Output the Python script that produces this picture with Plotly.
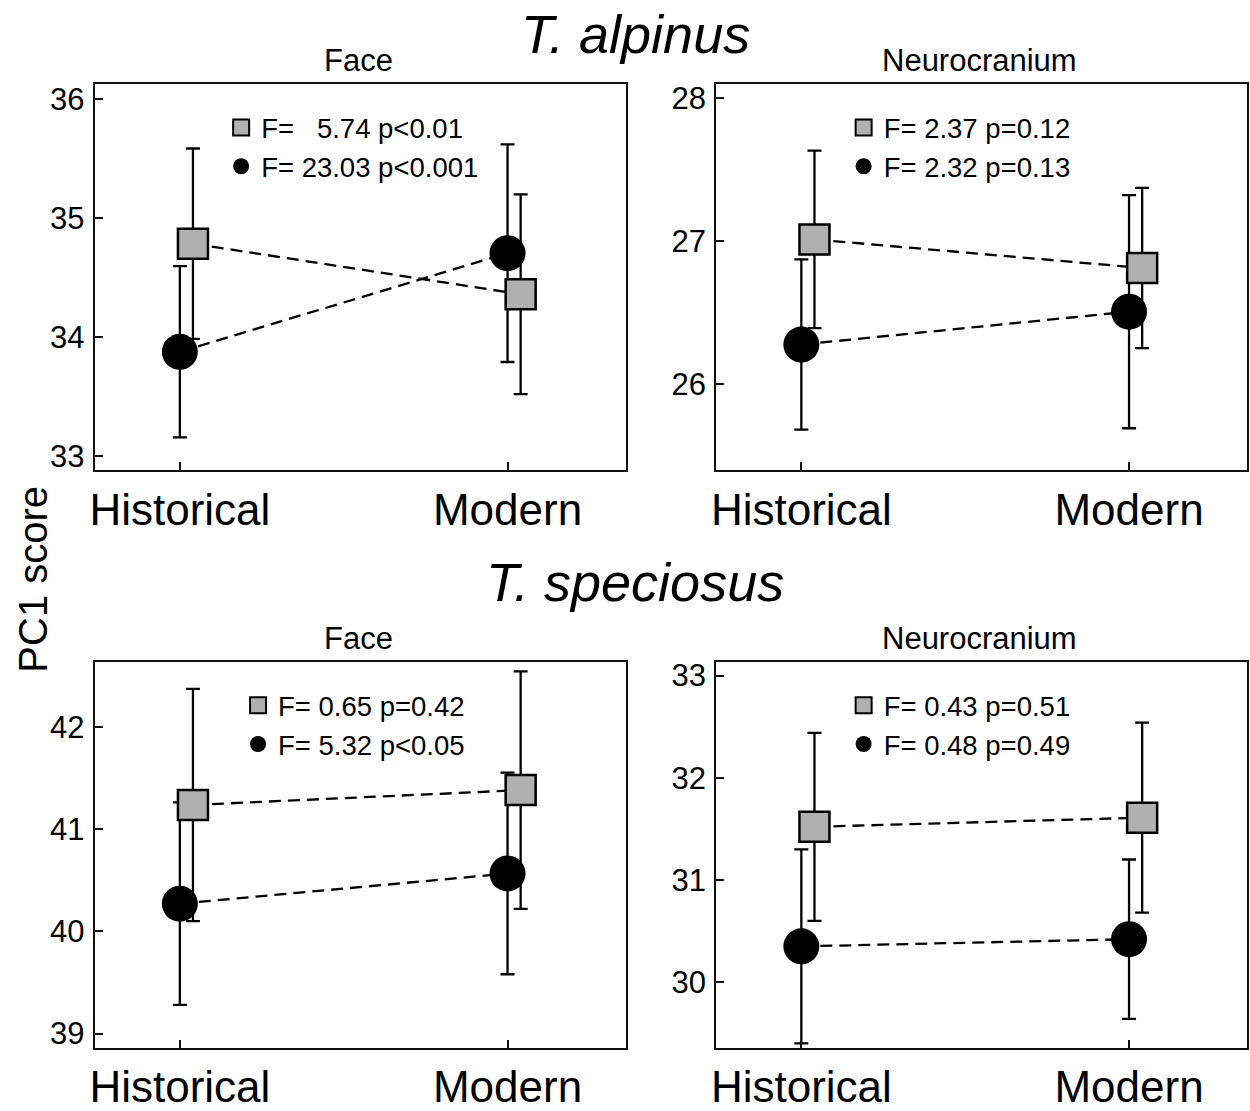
import plotly.graph_objects as go

# ---- data: PC1 score means and error half-widths ----
periods = ["Historical", "Modern"]

alp_face_sq = [34.785, 34.36]
alp_face_sq_err = [0.80, 0.84]
alp_face_ci = [33.876, 34.705]
alp_face_ci_err = [0.72, 0.915]

alp_neuro_sq = [27.01, 26.81]
alp_neuro_sq_err = [0.62, 0.56]
alp_neuro_ci = [26.275, 26.505]
alp_neuro_ci_err = [0.595, 0.815]

spe_face_sq = [41.235, 41.38]
spe_face_sq_err = [1.135, 1.16]
spe_face_ci = [40.27, 40.565]
spe_face_ci_err = [0.99, 0.985]

spe_neuro_sq = [31.52, 31.61]
spe_neuro_sq_err = [0.92, 0.93]
spe_neuro_ci = [30.35, 30.42]
spe_neuro_ci_err = [0.95, 0.78]

stats_sq = ["F=   5.74 p<0.01", "F= 2.37 p=0.12", "F= 0.65 p=0.42", "F= 0.43 p=0.51"]
stats_ci = ["F= 23.03 p<0.001", "F= 2.32 p=0.13", "F= 5.32 p<0.05", "F= 0.48 p=0.49"]

panel_titles = ["Face", "Neurocranium", "Face", "Neurocranium"]
species = ["T. alpinus", "T. speciosus"]

y_ticks = [[33, 34, 35, 36], [26, 27, 28], [39, 40, 41, 42], [30, 31, 32, 33]]
y_ranges = [[32.884, 36.125], [25.40, 28.094], [38.864, 42.632], [29.36, 33.133]]

# ---- layout geometry (pixels) ----
W, H = 1250, 1111
FONT = "Liberation Sans, Arial, sans-serif"
SQ_SHIFT = 0.04          # squares drawn slightly right of the category
X_RANGE = [-0.26, 1.36]
GREY = "#b0b0b0"
LW = 2.3
DASH = "12px,7px"

# plot boxes: (left, right, top, bottom) in pixels
boxes = [(90, 623, 81, 470), (714, 1247, 81, 470),
         (90, 623, 664, 1053), (714, 1247, 664, 1053)]


def px_x(v):
    return v / W


def px_y(v):
    return 1 - v / H


panels = [
    (alp_face_sq, alp_face_sq_err, alp_face_ci, alp_face_ci_err),
    (alp_neuro_sq, alp_neuro_sq_err, alp_neuro_ci, alp_neuro_ci_err),
    (spe_face_sq, spe_face_sq_err, spe_face_ci, spe_face_ci_err),
    (spe_neuro_sq, spe_neuro_sq_err, spe_neuro_ci, spe_neuro_ci_err),
]

fig = go.Figure()
xcat = list(range(len(periods)))

for i, (sq, sq_err, ci, ci_err) in enumerate(panels):
    suffix = "" if i == 0 else str(i + 1)
    xa, ya = "x" + suffix, "y" + suffix
    leg = "legend" + suffix

    # circles (drawn first so squares sit above)
    fig.add_trace(go.Scatter(
        x=xcat, y=ci, xaxis=xa, yaxis=ya, mode="lines+markers",
        line=dict(color="black", width=LW, dash=DASH),
        marker=dict(symbol="circle", size=36, color="black"),
        error_y=dict(type="data", array=ci_err, color="black", thickness=LW, width=7),
        showlegend=False, cliponaxis=False))
    fig.add_trace(go.Scatter(
        x=[v + SQ_SHIFT for v in xcat], y=sq, xaxis=xa, yaxis=ya, mode="lines+markers",
        line=dict(color="black", width=LW, dash=DASH),
        marker=dict(symbol="square", size=30, color=GREY, line=dict(color="black", width=2.5)),
        error_y=dict(type="data", array=sq_err, color="black", thickness=LW, width=7),
        showlegend=False, cliponaxis=False))

    # legend entries carrying the test statistics
    fig.add_trace(go.Scatter(
        x=[None], y=[None], xaxis=xa, yaxis=ya, mode="markers", name=stats_sq[i],
        marker=dict(symbol="square", size=30, color=GREY, line=dict(color="black", width=2)),
        legend=leg, showlegend=True))
    fig.add_trace(go.Scatter(
        x=[None], y=[None], xaxis=xa, yaxis=ya, mode="markers", name=stats_ci[i],
        marker=dict(symbol="circle", size=30, color="black"),
        legend=leg, showlegend=True))

layout = dict(
    width=W, height=H, margin=dict(l=0, r=0, t=0, b=0),
    paper_bgcolor="white", plot_bgcolor="white",
    font=dict(family=FONT, color="black"),
    annotations=[],
)

axis_common = dict(showline=True, linecolor="#111", linewidth=2, mirror=True,
                   showgrid=False, zeroline=False, ticks="inside", ticklen=8,
                   tickwidth=1.5, tickcolor="#111")

legend_pos = [(217, 100), (842, 100), (234, 683), (842, 683)]

for i, (l, r, t, b) in enumerate(boxes):
    suffix = "" if i == 0 else str(i + 1)
    layout["xaxis" + suffix] = dict(
        axis_common, domain=[px_x(l), px_x(r)], range=X_RANGE,
        anchor="y" + suffix, tickvals=xcat, ticktext=periods,
        tickfont=dict(size=44, family=FONT), ticklabelstandoff=0)
    layout["yaxis" + suffix] = dict(
        axis_common, domain=[px_y(b), px_y(t)], range=y_ranges[i],
        anchor="x" + suffix, tickvals=y_ticks[i],
        tickfont=dict(size=31, family=FONT), ticklabelstandoff=2)
    lx, ly = legend_pos[i]
    layout["legend" + suffix] = dict(
        x=px_x(lx), y=px_y(ly), xanchor="left", yanchor="top",
        bgcolor="rgba(0,0,0,0)", borderwidth=0, font=dict(size=27.5, family=FONT),
        itemsizing="trace", tracegroupgap=0)
    layout["annotations"].append(dict(
        text=panel_titles[i], x=px_x((l + r) / 2 - 2), y=px_y(t - 24),
        xref="paper", yref="paper", showarrow=False, xanchor="center", yanchor="middle",
        font=dict(size=31, family=FONT)))

for j, name in enumerate(species):
    layout["annotations"].append(dict(
        text="<i>" + name + "</i>", x=px_x(633), y=px_y([30, 583][j]),
        xref="paper", yref="paper", showarrow=False, xanchor="center", yanchor="middle",
        font=dict(size=54, family=FONT)))

layout["annotations"].append(dict(
    text="PC1 score", x=px_x(28), y=px_y(580), xref="paper", yref="paper",
    showarrow=False, textangle=-90, xanchor="center", yanchor="middle",
    font=dict(size=40, family=FONT)))

fig.update_layout(**layout)
fig.write_html("out.html")
